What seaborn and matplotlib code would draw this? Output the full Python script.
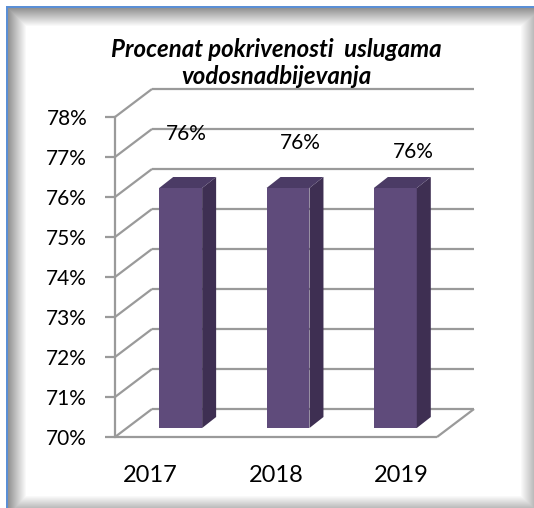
import numpy as np
import matplotlib
matplotlib.use("Agg")
import matplotlib.pyplot as plt
import seaborn as sns
from matplotlib.patches import Polygon
from matplotlib.lines import Line2D
from matplotlib.transforms import ScaledTranslation, IdentityTransform

# ---- data ----
years = ["2017", "2018", "2019"]
coverage = [76, 76, 76]
y_ticks = [70, 71, 72, 73, 74, 75, 76, 77, 78]
y_tick_labels = [f"{v}%" for v in y_ticks]
value_labels = [f"{v}%" for v in coverage]
title = "Procenat pokrivenosti  uslugama\nvodosnadbijevanja"

# ---- style ----
FRONT = "#5f4b7b"
SIDE = "#3e2f52"
TOP = "#4b3b65"
GRID = "#9a9a9a"
BLUE = "#5a8fd6"

sns.set_theme(style="white")
plt.rcParams["font.family"] = ["Lato", "DejaVu Sans"]

W, H, DPI = 534, 508, 100
fig = plt.figure(figsize=(W / DPI, H / DPI), dpi=DPI)

# ---- frame background (shadowed box) ----
xx = np.broadcast_to(np.arange(W)[None, :], (H, W)).astype(float)
yy = np.broadcast_to(np.arange(H)[:, None], (H, W)).astype(float)
left = np.clip(1 - (xx - 8) / 18, 0, 1) * (xx >= 8) * 0.42
top = np.clip(1 - (yy - 8) / 18, 0, 1) * (yy >= 8) * 0.42
right = np.clip((xx - 520) / 14, 0, 1) * 0.28
bottom = np.clip((yy - 495) / 13, 0, 1) * 0.28
shade = np.maximum.reduce([left, top, right, bottom])
shade[:, :6] = 0
shade[:6, :] = 0
img = np.repeat((1 - shade)[:, :, None], 3, axis=2)
blue = np.array(matplotlib.colors.to_rgb(BLUE))
img[6:8, 6:, :] = blue
img[6:, 6:8, :] = blue
bg = fig.add_axes([0, 0, 1, 1])
bg.imshow(img, aspect="auto", interpolation="nearest")
bg.axis("off")

# ---- main axes (front plane) ----
ax = fig.add_axes([115 / W, 1 - 437 / H, 322 / W, 320 / H])
ax.patch.set_visible(False)
sns.barplot(x=years, y=coverage, color=FRONT, saturation=1, width=0.4,
            ax=ax, zorder=3)
ax.set_xlim(-0.5, 2.5)
ax.set_ylim(y_ticks[0], y_ticks[-1])
ax.set_xlabel("")
ax.set_ylabel("")

for s in ["top", "right", "bottom"]:
    ax.spines[s].set_visible(False)
ax.spines["left"].set_color(GRID)
ax.spines["left"].set_linewidth(1.6)
ax.set_yticks(y_ticks)
ax.set_yticklabels(y_tick_labels)
ax.tick_params(axis="y", left=True, length=7, width=1.6, color=GRID,
               labelsize=15, pad=13, labelcolor="black")
ax.tick_params(axis="x", bottom=False, labelbottom=False)

ident = IdentityTransform()
D = np.array([37.0, 28.0])      # depth of the chart box (px)
plane = np.array([12.0, 9.0])   # bar plane offset (px)
d = np.array([14.0, 11.0])      # bar depth (px)


def disp(x, y):
    return np.array(ax.transData.transform((x, y)))


def seg(p0, p1, z=1):
    ax.add_line(Line2D([p0[0], p1[0]], [p0[1], p1[1]], transform=ident,
                       color=GRID, lw=1.6, clip_on=False, zorder=z,
                       solid_capstyle="butt"))


x_lo, x_hi = ax.get_xlim()
y0 = y_ticks[0]
for v in y_ticks:
    seg(disp(x_lo, v) + D, disp(x_hi, v) + D)   # back wall gridline
    seg(disp(x_lo, v), disp(x_lo, v) + D)        # side wall diagonal
seg(disp(x_lo, y0), disp(x_hi, y0))              # floor front edge
seg(disp(x_hi, y0), disp(x_hi, y0) + D)          # floor right edge

# ---- pseudo-3D bars ----
shift = ScaledTranslation(plane[0] / DPI, plane[1] / DPI, fig.dpi_scale_trans)
for i, p in enumerate(ax.patches):
    val = coverage[i]
    p.set_y(y0)
    p.set_height(val - y0)
    p.set_transform(ax.transData + shift)
    p.set_clip_on(False)
    p.set_edgecolor("none")
    bx0 = p.get_x()
    bx1 = bx0 + p.get_width()
    br = disp(bx1, y0) + plane
    tr = disp(bx1, val) + plane
    tl = disp(bx0, val) + plane
    ax.add_patch(Polygon([br, tr, tr + d, br + d], closed=True,
                         facecolor=SIDE, edgecolor="none", transform=ident,
                         clip_on=False, zorder=3))
    ax.add_patch(Polygon([tl, tr, tr + d, tl + d], closed=True,
                         facecolor=TOP, edgecolor="none", transform=ident,
                         clip_on=False, zorder=3))

# ---- value labels ----
for i, (val, lab) in enumerate(zip(coverage, value_labels)):
    ax.annotate(lab, (i, val), xytext=(24 + (i - 1) * 6, 54 - (i - 1) * 9.5),
                textcoords="offset pixels", ha="center", va="center",
                fontsize=15, color="black", zorder=5)

# ---- category labels ----
for i, yr in enumerate(years):
    ax.annotate(yr, (i, y0), xytext=((i - 1) * 18, -39),
                textcoords="offset pixels", ha="center", va="center",
                fontsize=17, color="black")

# ---- title ----
fig.text(276 / W, 1 - 63 / H, title, ha="center", va="center",
         fontsize=17.3, fontweight="bold", fontstyle="italic", color="black",
         linespacing=1.2)

fig.savefig("out.png", dpi=DPI)
